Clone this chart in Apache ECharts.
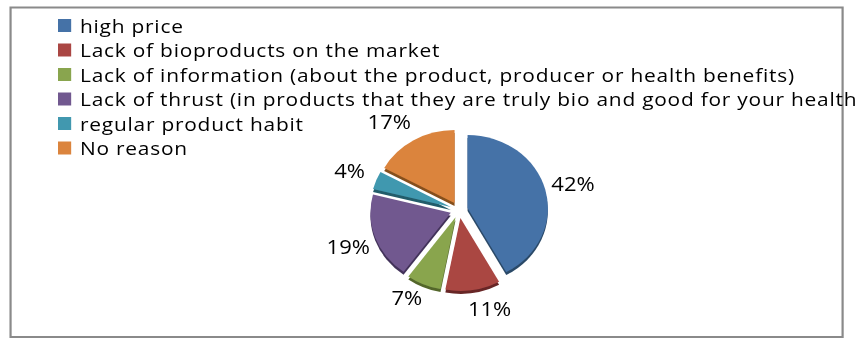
<!DOCTYPE html>
<html>
<head>
<meta charset="utf-8">
<script src="https://cdn.jsdelivr.net/npm/echarts@6/dist/echarts.min.js"></script>
<style>
  html, body { margin: 0; padding: 0; background: #fff; overflow: hidden; }
  /* drawn a little narrower, then widened so the pie reads as a tilted disc */
  #chart { width: 782px; height: 338px; transform: scaleX(1.1); transform-origin: 0 0; }
  #chart text[style*="19px"] { letter-spacing: 0.7px; }
</style>
</head>
<body>
<div id="chart"></div>
<script>
// Reasons for not buying bioproducts (share of answers, %)
const categories = [
  'high price',
  'Lack of bioproducts on the market',
  'Lack of information (about the product, producer or health benefits)',
  'Lack of thrust (in products that they are truly bio and good for your health',
  'regular product habit',
  'No reason'
];
const shares = [42, 11, 7, 19, 4, 17];

const sliceColors = ['#4572A7', '#AA4643', '#89A54E', '#71588F', '#4198AF', '#DB843D'];
const rimColors   = ['#2a4868', '#682826', '#52662c', '#42335a', '#235c6b', '#85501f'];

// small label shifts so the bottom labels sit closer to the disc
// and the top one clears the legend text
const labelShift = {
  'Lack of bioproducts on the market': [11, -7],
  'Lack of information (about the product, producer or health benefits)': [-5, -11],
  'No reason': [-9, 3]
};

const chart = echarts.init(document.getElementById('chart'), null, {
  renderer: 'svg', width: 782, height: 338
});

const slices = categories.map((name, i) => ({
  name,
  value: shares[i],
  selected: true,
  itemStyle: {
    color: sliceColors[i],
    shadowColor: rimColors[i],
    shadowOffsetY: 3,
    shadowBlur: 0
  }
}));

// transparent ring that carries the percentage labels around the pie
const labelRing = categories.map((name, i) => ({
  name,
  value: shares[i],
  label: labelShift[name] ? { offset: labelShift[name] } : {}
}));

chart.setOption({
  animation: false,
  graphic: [{
    type: 'rect',
    silent: true,
    shape: { x: 9.6, y: 7.5, width: 756.4, height: 329.5 },
    style: { fill: 'none', stroke: '#8a8a8a', lineWidth: 2 }
  }],
  legend: {
    orient: 'vertical',
    left: 52.7,
    top: 15.5,
    padding: 0,
    itemWidth: 12,
    itemHeight: 13,
    itemGap: 4.5,
    icon: 'rect',
    selectedMode: false,
    data: categories,
    textStyle: {
      fontFamily: 'Open Sans',
      fontSize: 19,
      color: '#000',
      lineHeight: 20,
      padding: [0, 0, 0, 3]
    }
  },
  series: [
    {
      type: 'pie',
      center: [417.3, 210],
      radius: 73,
      startAngle: 90,
      clockwise: true,
      selectedMode: 'multiple',
      selectedOffset: 8,
      itemStyle: { borderWidth: 0 },
      label: { show: false },
      labelLine: { show: false },
      emphasis: { disabled: true },
      data: slices
    },
    {
      type: 'pie',
      center: [417.3, 210],
      radius: [94, 114],
      startAngle: 90,
      clockwise: true,
      silent: true,
      legendHoverLink: false,
      itemStyle: { color: 'rgba(0,0,0,0)', borderWidth: 0 },
      label: {
        show: true,
        position: 'inside',
        formatter: '{c}%',
        fontFamily: 'Open Sans',
        fontSize: 20,
        lineHeight: 17,
        color: '#000'
      },
      labelLine: { show: false },
      emphasis: { disabled: true },
      data: labelRing
    }
  ]
});
</script>
</body>
</html>
